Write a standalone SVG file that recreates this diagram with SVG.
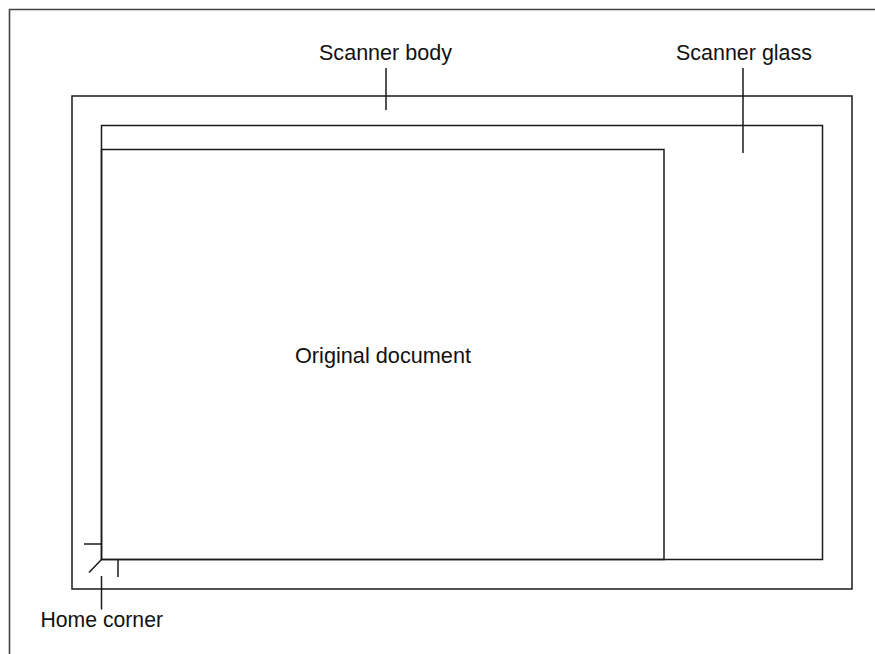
<svg xmlns="http://www.w3.org/2000/svg" width="875" height="654" viewBox="0 0 875 654">
<style>
.ln{fill:none;stroke:#1a1a1a;stroke-width:1.5}
.fr{fill:none;stroke:#444;stroke-width:1.6}
.t{font-family:"Liberation Sans",Arial,sans-serif;font-size:22.5px;fill:#111}
</style>
<rect width="875" height="654" fill="#fff"/>
<polyline id="frame" class="fr" points="9.5,654 9.5,9.5 875,9.5"/>
<g id="scanner-body"><rect class="ln" x="72" y="96" width="780" height="493"/></g>
<g id="scanner-glass"><rect class="ln" x="101.5" y="125.5" width="721" height="434"/></g>
<g id="original-document"><rect class="ln" x="101.5" y="149.5" width="562.5" height="410"/>
<text class="t" x="295" y="362.5" textLength="176" lengthAdjust="spacingAndGlyphs">Original document</text></g>
<g id="home-corner">
<line class="ln" x1="84" y1="544" x2="101.5" y2="544"/>
<line class="ln" x1="101.5" y1="559.5" x2="89" y2="572.5"/>
<line class="ln" x1="118" y1="559.5" x2="118" y2="577"/>
</g>
<g id="labels">
<text class="t" x="319" y="60" textLength="133" lengthAdjust="spacingAndGlyphs">Scanner body</text>
<text class="t" x="676" y="60" textLength="136" lengthAdjust="spacingAndGlyphs">Scanner glass</text>
<text class="t" x="40.5" y="626.5" textLength="122.5" lengthAdjust="spacingAndGlyphs">Home corner</text>
</g>
<g id="connectors">
<line class="ln" x1="386" y1="68" x2="386" y2="110"/>
<line class="ln" x1="743" y1="68" x2="743" y2="153"/>
<line class="ln" x1="101.5" y1="576" x2="101.5" y2="609.5"/>
</g>
</svg>
